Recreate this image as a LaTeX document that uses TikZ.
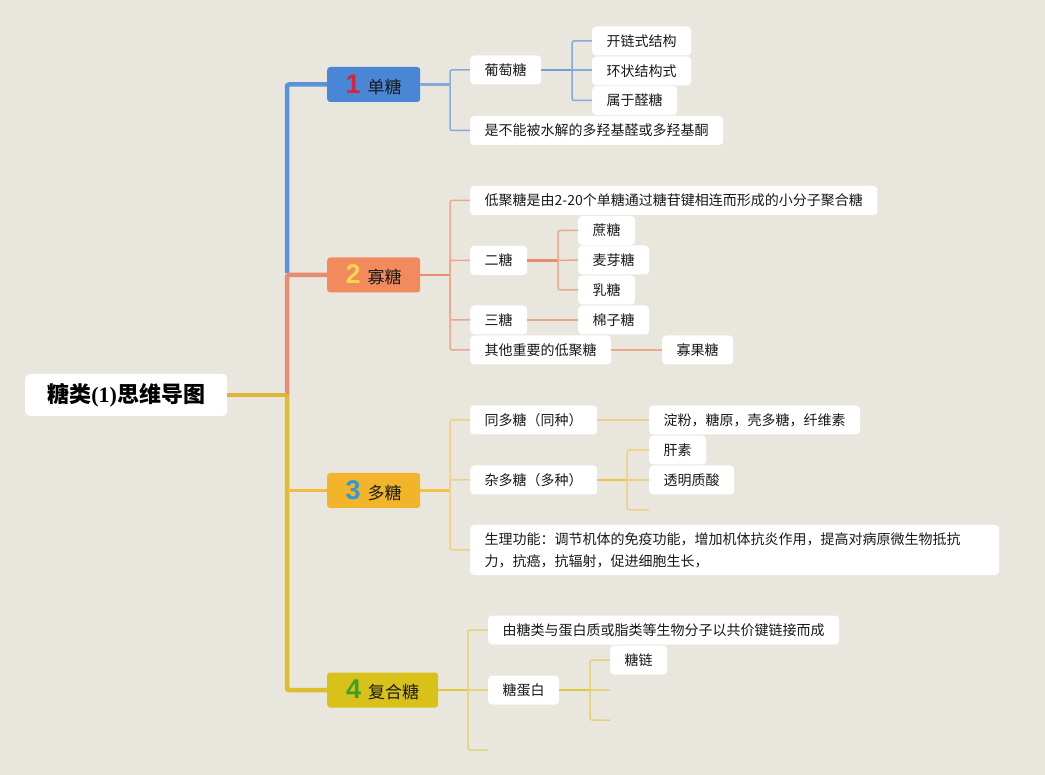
\documentclass[tikz,border=0pt]{standalone}
\usepackage{fontspec}
\setmainfont{Noto Sans CJK SC}
\newfontfamily\numfont{Liberation Sans}
\newfontfamily\serifnum{Liberation Serif}
\definecolor{bg}{HTML}{E9E6DE}
\definecolor{cblue}{HTML}{4A86D6}
\definecolor{lblue}{HTML}{86AADB}
\definecolor{corange}{HTML}{F28A5E}
\definecolor{lorange}{HTML}{ECA88E}
\definecolor{tor}{HTML}{E88C72}
\definecolor{cyellow}{HTML}{F2B52A}
\definecolor{lyellow}{HTML}{F0CF85}
\definecolor{colive}{HTML}{D8C21A}
\definecolor{lolive}{HTML}{E3D27F}
\definecolor{tyel}{HTML}{DCBE2C}
\definecolor{nred}{HTML}{D6243A}
\definecolor{nyel}{HTML}{F7D64A}
\definecolor{nblue}{HTML}{2A9BD8}
\definecolor{ngreen}{HTML}{3AA02A}
\tikzset{
  leaf/.style={fill=white, rounded corners=4pt, minimum height=29pt, inner xsep=14.5pt, inner ysep=0pt,
    font=\fontsize{14}{16}\selectfont, anchor=west, text=black!90},
  branch/.style={rounded corners=3pt, minimum height=35pt, minimum width=93pt, anchor=west, inner xsep=0pt,
    font=\fontsize{17}{20}\selectfont, text=black!90},
  trunkline/.style={line width=4.5pt, rounded corners=2pt},
  mainline/.style={line width=2.2pt},
  stub/.style={line width=1.5pt, rounded corners=2pt},
}
\newcommand{\bnum}[2]{{\color{#1}\numfont\bfseries\fontsize{27}{27}\selectfont #2}\hspace{7pt}}
\begin{document}
\begin{tikzpicture}[x=1pt,y=-1pt]
\fill[bg] (0,0) rectangle (1045,775);
\useasboundingbox (0,0) rectangle (1045,775);

% root
\node[fill=white, rounded corners=5pt, minimum width=202pt, minimum height=42pt, anchor=west,
  font=\bfseries\fontsize{22}{24}\selectfont] (root) at (25,395) {糖类{\serifnum\bfseries(1)}思维导图};

% branches
\node[branch, fill=cblue] (b1) at (327,84.5) {\bnum{nred}{1}单糖};
\node[branch, fill=corange] (b2) at (327,275) {\bnum{nyel}{2}寡糖};
\node[branch, fill=cyellow] (b3) at (327,490.5) {\bnum{nblue}{3}多糖};
\node[branch, fill=colive, minimum width=111pt] (b4) at (327,690) {\bnum{ngreen}{4}复合糖};

% trunk
\coordinate (t) at (287,395);
\draw[trunkline, cblue!90!white] (b1.west) -| (287,273);
\draw[trunkline, tor] (b2.west) -| (t);
\draw[trunkline, tyel] (t) |- (b4.west);
\draw[line width=3.5pt, cyellow!90!white] (t |- b3.west) -- (b3.west);
\draw[line width=4pt, tyel!80!tor] (root.east) -- (t);

% ---------- group 1
\node[leaf] (g) at (470,70) {葡萄糖};
\node[leaf] (n1) at (470,130.5) {是不能被水解的多羟基醛或多羟基酮};
\node[leaf] (g1) at (592,41) {开链式结构};
\node[leaf] (g2) at (592,71) {环状结构式};
\node[leaf] (g3) at (592,100.5) {属于醛糖};
\coordinate (j1) at (450,84.5);
\draw[mainline, lblue] (b1.east) -- (j1);
\draw[stub, lblue] (j1) |- (g.west);
\draw[stub, lblue] (j1) |- (n1.west);
\coordinate (j11) at (572,70);
\draw[mainline, cblue!80!white] (g.east) -- (j11);
\draw[stub, lblue] (j11) |- (g1.west);
\draw[stub, lblue] (j11) -- (g2.west |- j11);
\draw[stub, lblue] (j11) |- (g3.west);

% ---------- group 2
\node[leaf] (o1) at (470,200.5) {低聚糖是由2-20个单糖通过糖苷键相连而形成的小分子聚合糖};
\node[leaf] (o2) at (470,260.5) {二糖};
\node[leaf] (o3) at (470,320) {三糖};
\node[leaf] (o4) at (470,350) {其他重要的低聚糖};
\node[leaf] (o21) at (578,230.5) {蔗糖};
\node[leaf] (o22) at (578,260) {麦芽糖};
\node[leaf] (o23) at (578,290) {乳糖};
\node[leaf] (o31) at (578,320) {棉子糖};
\node[leaf] (o41) at (662,350) {寡果糖};
\coordinate (j2) at (450,275);
\draw[mainline, tor] (b2.east) -- (j2);
\draw[stub, lorange] (j2) |- (o1.west);
\draw[stub, lorange] (j2) |- (o2.west);
\draw[stub, lorange] (j2) |- (o3.west);
\draw[stub, lorange] (j2) |- (o4.west);
\coordinate (j21) at (558,260.5);
\draw[mainline, tor] (o2.east) -- (j21);
\draw[stub, lorange] (j21) |- (o21.west);
\draw[stub, lorange] (j21) -- (o22.west);
\draw[stub, lorange] (j21) |- (o23.west);
\draw[stub, lorange] (o3.east) -- (o31.west);
\draw[stub, lorange] (o4.east) -- (o41.west);

% ---------- group 3
\node[leaf] (p1) at (470,420) {同多糖（同种）};
\node[leaf] (p2) at (470,480) {杂多糖（多种）};
\node[leaf, align=left, text width=500pt, minimum height=50pt, font=\fontsize{14}{22}\selectfont] (p3) at (470,550)
  {生理功能：调节机体的免疫功能，增加机体抗炎作用，提高对病原微生物抵抗\\力，抗癌，抗辐射，促进细胞生长，};
\node[leaf] (p11) at (649,420) {淀粉，糖原，壳多糖，纤维素};
\node[leaf] (p21) at (649,450) {肝素};
\node[leaf] (p22) at (649,480) {透明质酸};
\coordinate (e3) at (649,510);
\coordinate (j3) at (450,490.5);
\draw[mainline, cyellow!85!white] (b3.east) -- (j3);
\draw[stub, lyellow] (j3) |- (p1.west);
\draw[stub, lyellow] (j3) |- (p2.west);
\draw[stub, lyellow] (j3) |- (p3.west);
\draw[stub, lyellow] (p1.east) -- (p11.west);
\coordinate (j31) at (627,480);
\draw[mainline, cyellow!85!white] (p2.east) -- (j31);
\draw[stub, lyellow] (j31) |- (p21.west);
\draw[stub, lyellow] (j31) -- (p22.west);
\draw[stub, lyellow] (j31) |- (e3);

% ---------- group 4
\node[leaf] (q1) at (488,630) {由糖类与蛋白质或脂类等生物分子以共价键链接而成};
\node[leaf] (q2) at (488,690) {糖蛋白};
\node[leaf] (q21) at (610,660) {糖链};
\coordinate (e41) at (488,750);
\coordinate (e42) at (610,690);
\coordinate (e43) at (610,720);
\coordinate (j4) at (468,690);
\draw[mainline, colive!85!white] (b4.east) -- (j4);
\draw[stub, lolive] (j4) |- (q1.west);
\draw[stub, lolive] (j4) -- (q2.west);
\draw[stub, lolive] (j4) |- (e41);
\coordinate (j41) at (590,690);
\draw[mainline, colive!85!white] (q2.east) -- (j41);
\draw[stub, lolive] (j41) |- (q21.west);
\draw[stub, lolive] (j41) -- (e42);
\draw[stub, lolive] (j41) |- (e43);
\end{tikzpicture}
\end{document}
